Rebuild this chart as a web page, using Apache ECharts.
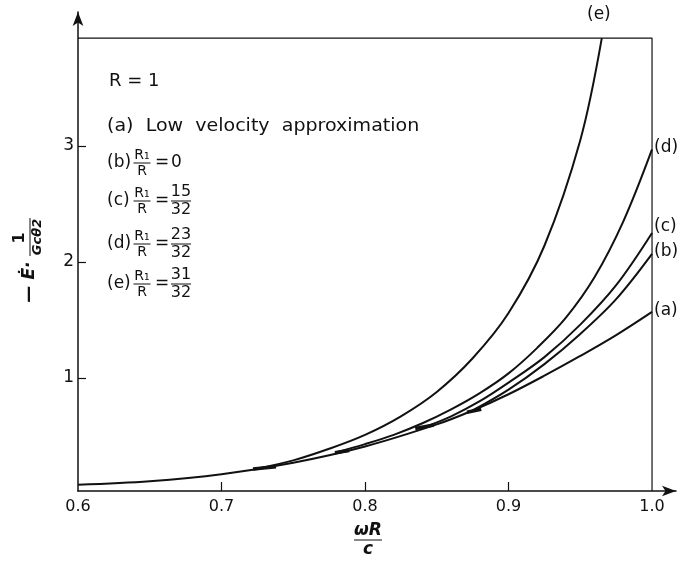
<!DOCTYPE html>
<html>
<head>
<meta charset="utf-8">
<script src="https://cdn.jsdelivr.net/npm/echarts@6.0.0/dist/echarts.min.js"></script>
<style>
  html, body { margin: 0; padding: 0; background: #fff; }
  #chart { width: 679px; height: 561px; }
</style>
</head>
<body>
<div id="chart"></div>
<script>
// values (x = ωR/c, y = -Ė/(Gcθ²))
const xA = [0.6, 0.65, 0.7, 0.75, 0.8, 0.85, 0.875, 0.9, 0.925, 0.95, 0.975, 1.0];
const yA = [0.08, 0.11, 0.17, 0.27, 0.41, 0.60, 0.72, 0.86, 1.02, 1.19, 1.37, 1.57];

const xB = [0.875, 0.9, 0.925, 0.95, 0.975, 1.0];
const yB = [0.72, 0.90, 1.12, 1.38, 1.68, 2.07];

const xC = [0.84, 0.86, 0.88, 0.9, 0.925, 0.95, 0.975, 1.0];
const yC = [0.57, 0.67, 0.80, 0.96, 1.18, 1.46, 1.80, 2.25];

const xD = [0.78, 0.8, 0.82, 0.84, 0.86, 0.88, 0.9, 0.92, 0.94, 0.96, 0.98, 1.0];
const yD = [0.36, 0.43, 0.51, 0.61, 0.73, 0.87, 1.04, 1.26, 1.52, 1.87, 2.35, 2.97];

const xE = [0.725, 0.75, 0.775, 0.8, 0.825, 0.85, 0.875, 0.9, 0.925, 0.95, 0.965];
const yE = [0.22, 0.29, 0.39, 0.51, 0.67, 0.88, 1.17, 1.56, 2.14, 3.05, 3.93];

// short thick strokes where the exact curves start
const dashX0 = [0.722, 0.779, 0.835, 0.871];
const dashX1 = [0.738, 0.789, 0.848, 0.881];
const dashY0 = [0.215, 0.355, 0.565, 0.705];
const dashY1 = [0.235, 0.375, 0.595, 0.730];

// frame (top and right edges of the plotting box)
const frameX = [0.6, 1.0, 1.0];
const frameY = [3.93, 3.93, 0.026];

const xTicks = [0.7, 0.8, 0.9];
const xLabels = [0.6, 0.7, 0.8, 0.9, 1.0];
const yTicks = [1, 2, 3];

const zip = (xs, ys) => xs.map((x, i) => [x, ys[i]]);

const FONT = 'DejaVu Sans';
const INK = '#111';

function curve(name, xs, ys) {
  return {
    name: name,
    type: 'line',
    data: zip(xs, ys),
    smooth: 0.35,
    showSymbol: false,
    silent: true,
    lineStyle: { color: INK, width: 2 },
    z: 3
  };
}

const dashSeries = dashX0.map((x0, i) => ({
  type: 'line',
  data: [[x0, dashY0[i]], [dashX1[i], dashY1[i]]],
  showSymbol: false,
  silent: true,
  lineStyle: { color: INK, width: 3.5 },
  z: 4
}));

// stacked fraction (num over den) for graphic texts
function frac(cx, cy, num, den, size, w) {
  return [
    { type: 'text', x: cx, y: cy - 1, style: { text: num, font: size + 'px "' + FONT + '"', fill: INK, align: 'center', verticalAlign: 'bottom' } },
    { type: 'line', shape: { x1: cx - w / 2, y1: cy, x2: cx + w / 2, y2: cy }, style: { stroke: INK, lineWidth: 1 } },
    { type: 'text', x: cx, y: cy + 1, style: { text: den, font: size + 'px "' + FONT + '"', fill: INK, align: 'center', verticalAlign: 'top' } }
  ];
}

function txt(x, y, s, size, extra) {
  return Object.assign({
    type: 'text', x: x, y: y,
    style: { text: s, font: size + 'px "' + FONT + '"', fill: INK, align: 'left', verticalAlign: 'middle' }
  }, extra || {});
}

// key block inside the plot
const keyX = 107;
const keyRows = [
  { y: 163, tag: '(b)', val: null, plain: '0' },
  { y: 201, tag: '(c)', val: ['15', '32'] },
  { y: 244, tag: '(d)', val: ['23', '32'] },
  { y: 284, tag: '(e)', val: ['31', '32'] }
];

const keyGraphics = [
  txt(keyX + 2, 81, 'R = 1', 18),
  txt(keyX, 127, '(a)  Low  velocity  approximation', 17, { scaleX: 1.12 })
];
keyRows.forEach(r => {
  keyGraphics.push(txt(keyX, r.y, r.tag, 17));
  frac(keyX + 35, r.y, 'R\u2081', 'R', 14, 17).forEach(g => keyGraphics.push(g));
  keyGraphics.push(txt(keyX + 48, r.y, '=', 17));
  if (r.val) {
    frac(keyX + 74, r.y, r.val[0], r.val[1], 16, 20).forEach(g => keyGraphics.push(g));
  } else {
    keyGraphics.push(txt(keyX + 64, r.y, r.plain, 17));
  }
});

// curve end labels
const endLabels = [
  txt(587, 15, '(e)', 17),
  txt(654, 148, '(d)', 17),
  txt(654, 227, '(c)', 17),
  txt(654, 252, '(b)', 17),
  txt(654, 311, '(a)', 17)
];

// y-axis title, rotated
const yTitle = {
  type: 'group',
  x: 30, y: 258,
  rotation: Math.PI / 2,
  children: [
    { type: 'text', x: -24, y: 0, style: { text: '\u2014 \u0116\u00b7', font: 'italic bold 17px "' + FONT + '"', fill: INK, align: 'center', verticalAlign: 'middle' } },
    { type: 'text', x: 20, y: -2, style: { text: '1', font: 'bold 16px "' + FONT + '"', fill: INK, align: 'center', verticalAlign: 'bottom' } },
    { type: 'line', shape: { x1: 2, y1: 0, x2: 40, y2: 0 }, style: { stroke: INK, lineWidth: 1 } },
    { type: 'text', x: 21, y: 1, style: { text: 'Gc\u03b82', font: 'italic bold 13px "' + FONT + '"', fill: INK, align: 'center', verticalAlign: 'top' } }
  ]
};

// x-axis title
const xTitle = {
  type: 'group',
  x: 368, y: 540,
  children: [
    { type: 'text', x: 0, y: -1, style: { text: '\u03c9R', font: 'italic bold 17px "' + FONT + '"', fill: INK, align: 'center', verticalAlign: 'bottom' } },
    { type: 'line', shape: { x1: -14, y1: 0, x2: 14, y2: 0 }, style: { stroke: INK, lineWidth: 1 } },
    { type: 'text', x: 0, y: 1, style: { text: 'c', font: 'italic bold 17px "' + FONT + '"', fill: INK, align: 'center', verticalAlign: 'top' } }
  ]
};

const chart = echarts.init(document.getElementById('chart'), null, { renderer: 'canvas' });

chart.setOption({
  animation: false,
  backgroundColor: '#fff',
  grid: { left: 78, right: 3, top: 12, bottom: 70 },
  xAxis: {
    type: 'value',
    min: 0.6,
    max: 1.0167,
    splitLine: { show: false },
    axisLine: { onZero: false, lineStyle: { color: INK, width: 1.5 }, symbol: ['none', 'arrow'], symbolSize: [8, 14] },
    axisTick: { inside: true, length: 9, customValues: xTicks, lineStyle: { color: INK, width: 1.2 } },
    axisLabel: {
      customValues: xLabels,
      formatter: v => v.toFixed(1),
      color: INK, fontFamily: FONT, fontSize: 16, margin: 8
    }
  },
  yAxis: {
    type: 'value',
    min: 0.026,
    max: 4.155,
    splitLine: { show: false },
    axisLine: { lineStyle: { color: INK, width: 1.5 }, symbol: ['none', 'arrow'], symbolSize: [8, 14] },
    axisTick: { inside: true, length: 8, customValues: yTicks, lineStyle: { color: INK, width: 1.2 } },
    axisLabel: {
      customValues: yTicks,
      color: INK, fontFamily: FONT, fontSize: 17, margin: 4
    }
  },
  series: [
    {
      type: 'line',
      data: zip(frameX, frameY),
      showSymbol: false,
      silent: true,
      lineStyle: { color: INK, width: 1.2 },
      z: 2
    },
    curve('a', xA, yA),
    curve('b', xB, yB),
    curve('c', xC, yC),
    curve('d', xD, yD),
    curve('e', xE, yE)
  ].concat(dashSeries),
  graphic: keyGraphics.concat(endLabels, [yTitle, xTitle])
});
</script>
</body>
</html>
